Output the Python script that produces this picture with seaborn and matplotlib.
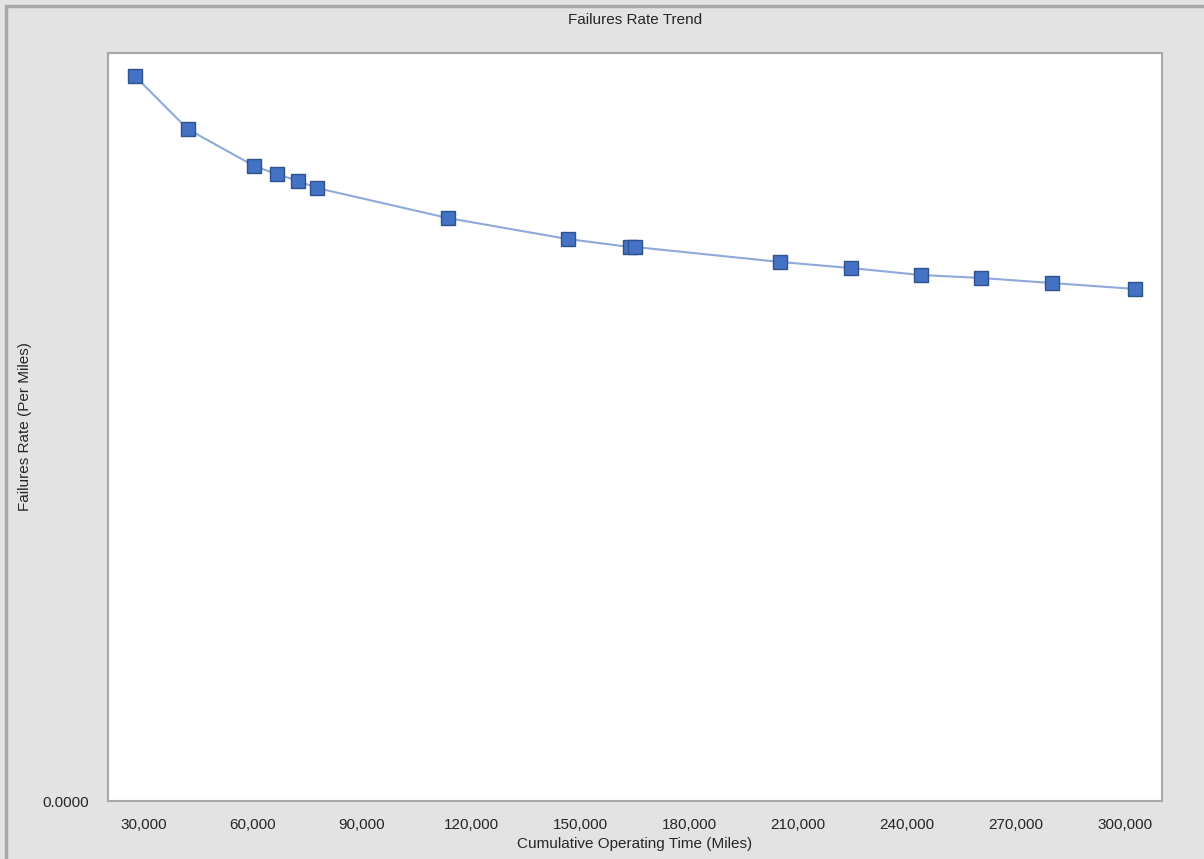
import matplotlib
matplotlib.use('Agg')
import matplotlib.pyplot as plt
import matplotlib.ticker as mticker
from matplotlib.patches import Rectangle
import seaborn as sns
import pandas as pd

# values
miles = [27500, 42000, 60350, 66500, 72450, 77600, 113600, 146600, 163750, 165150,
         205200, 224500, 243800, 260500, 279800, 302900]
rate = [0.000725, 0.000672, 0.000635, 0.000627, 0.000620, 0.000613, 0.000583, 0.000562,
        0.000554, 0.000554, 0.000539, 0.000533, 0.000526, 0.000523, 0.000518, 0.000512]
x_ticks = [30000, 60000, 90000, 120000, 150000, 180000, 210000, 240000, 270000, 300000]

df = pd.DataFrame({'miles': miles, 'rate': rate})

sns.set_style('white')
plt.rcParams['font.family'] = ['Liberation Sans', 'DejaVu Sans']

fig = plt.figure(figsize=(12.04, 8.59), dpi=100, facecolor='#e3e3e3')
# outer window border
fig.patches.append(Rectangle((0.005, -0.01), 1.2, 1.003, transform=fig.transFigure,
                             fill=False, edgecolor='#a8a8a8', linewidth=2.5))
ax = fig.add_axes([0.0897, 0.0675, 0.8754, 0.8708])
ax.set_facecolor('white')

sns.lineplot(data=df, x='miles', y='rate', ax=ax, color='#8eaadb', linewidth=1.5,
             marker='s', markersize=10, markerfacecolor='#4472c4',
             markeredgecolor='#2f528f', markeredgewidth=1.0)

ax.set_xlim(20100, 310200)
ax.set_ylim(0, 0.000748)
ax.set_xticks(x_ticks)
ax.xaxis.set_major_formatter(mticker.FuncFormatter(lambda v, p: f'{int(v):,}'))
ax.set_yticks([0])
ax.yaxis.set_major_formatter(mticker.FuncFormatter(lambda v, p: f'{v:.4f}'))
ax.tick_params(axis='x', length=6, color='#b0b0b0', width=1, labelsize=11, pad=6)
ax.tick_params(axis='y', length=0, labelsize=11, pad=14)

for s in ax.spines.values():
    s.set_color('#a8a8a8')
    s.set_linewidth(1.5)

ax.set_xlabel('Cumulative Operating Time (Miles)', fontsize=11, labelpad=4)
ax.set_ylabel('Failures Rate (Per Miles)', fontsize=11, labelpad=0)
ax.yaxis.set_label_coords(-0.072, 0.5)
ax.set_title('Failures Rate Trend', fontsize=11, pad=21)

fig.savefig('out.png', dpi=100, facecolor=fig.get_facecolor())
